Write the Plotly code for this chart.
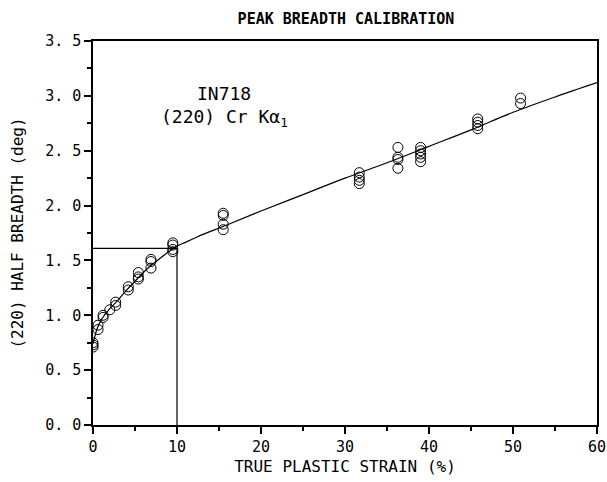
import plotly.graph_objects as go

# measured points (true plastic strain %, half breadth deg)
strain = [0, 0, 0, 0.6, 0.6, 1.2, 1.2, 2.0, 2.7, 2.7, 4.2, 4.2, 5.4, 5.4, 5.4,
          6.9, 6.9, 6.9, 9.5, 9.5, 9.5, 9.5, 15.5, 15.5, 15.5, 15.5,
          31.7, 31.7, 31.7, 31.7, 36.3, 36.3, 36.3, 36.3,
          39.0, 39.0, 39.0, 39.0, 39.0, 45.8, 45.8, 45.8, 45.8, 50.9, 50.9]
breadth = [0.71, 0.73, 0.75, 0.87, 0.91, 0.98, 1.00, 1.05, 1.09, 1.12, 1.23, 1.26, 1.33, 1.35, 1.39,
           1.43, 1.49, 1.51, 1.58, 1.60, 1.64, 1.66, 1.78, 1.83, 1.91, 1.93,
           2.20, 2.23, 2.26, 2.30, 2.34, 2.42, 2.44, 2.53,
           2.40, 2.44, 2.47, 2.50, 2.53, 2.70, 2.73, 2.76, 2.79, 2.93, 2.98]

# calibration curve
curve_x = [0, 0.5, 1, 2, 3, 4, 5, 6, 7, 8, 9, 10, 11, 12, 13, 14, 16, 20, 25, 30, 35, 40, 45, 50, 55, 60]
curve_y = [0.74, 0.88, 0.96, 1.06, 1.14, 1.23, 1.31, 1.39, 1.46, 1.52, 1.58, 1.63, 1.665, 1.70,
           1.735, 1.765, 1.825, 1.95, 2.10, 2.25, 2.39, 2.54, 2.69, 2.85, 2.99, 3.12]

# reference read-off lines
ref_x = [0, 10, 10]
ref_y = [1.61, 1.61, 0]

x_ticks = [0, 10, 20, 30, 40, 50, 60]
x_labels = ["0", "10", "20", "30", "40", "50", "60"]
y_ticks = [0, 0.5, 1.0, 1.5, 2.0, 2.5, 3.0, 3.5]
y_labels = ["0. 0", "0. 5", "1. 0", "1. 5", "2. 0", "2. 5", "3. 0", "3. 5"]

FONT = "DejaVu Sans Mono"

fig = go.Figure()
fig.add_trace(go.Scatter(x=curve_x, y=curve_y, mode="lines", line_shape="spline",
                         line=dict(color="black", width=1.2), showlegend=False))
fig.add_trace(go.Scatter(x=ref_x, y=ref_y, mode="lines",
                         line=dict(color="black", width=1.2), showlegend=False))
fig.add_trace(go.Scatter(x=strain, y=breadth, mode="markers",
                         marker=dict(symbol="circle-open", size=10, color="black",
                                     line=dict(width=1, color="black")),
                         showlegend=False))

axis_common = dict(showline=True, linecolor="black", linewidth=1.5, mirror=True,
                   ticks="outside", tickcolor="black", ticklen=7, tickwidth=1.5,
                   showgrid=False, zeroline=False, automargin=False,
                   tickfont=dict(family=FONT, size=15, color="black"))

fig.update_xaxes(range=[0, 60], tickvals=x_ticks, ticktext=x_labels,
                 minor=dict(dtick=5, tick0=0, ticks="outside", ticklen=4, tickcolor="black"),
                 title=dict(text="TRUE PLASTIC STRAIN (%)",
                            font=dict(family=FONT, size=16, color="black"), standoff=6),
                 **axis_common)
fig.update_yaxes(range=[0, 3.5], tickvals=y_ticks, ticktext=y_labels,
                 minor=dict(dtick=0.25, tick0=0, ticks="outside", ticklen=4, tickcolor="black"),
                 title=dict(text="(220) HALF BREADTH (deg)",
                            font=dict(family=FONT, size=16, color="black"), standoff=18),
                 **axis_common)

fig.add_annotation(text="IN718", xref="x", yref="y", x=15.6, y=3.02,
                   showarrow=False, font=dict(family=FONT, size=18, color="black"))
fig.add_annotation(text="(220) Cr Kα<sub>1</sub>", xref="x", yref="y", x=15.6, y=2.8,
                   showarrow=False, font=dict(family=FONT, size=18, color="black"))

fig.update_layout(
    width=607, height=482,
    margin=dict(l=93, r=10, t=41, b=57),
    paper_bgcolor="white", plot_bgcolor="white",
    title=dict(text="<b>PEAK BREADTH CALIBRATION</b>", x=0.57, xanchor="center",
               y=0.962, yanchor="middle",
               font=dict(family=FONT, size=15, color="black")),
)

fig.write_html("out.html", config={"displayModeBar": False},
               post_script="document.body.style.margin='0';document.body.style.overflow='hidden';")
